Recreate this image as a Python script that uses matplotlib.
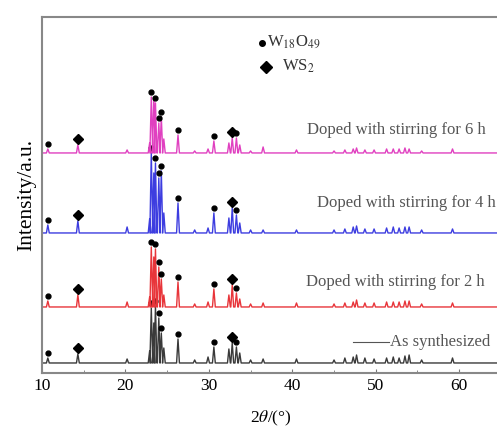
import numpy as np
import matplotlib
matplotlib.use("Agg")
from matplotlib import pyplot as plt
from matplotlib.ticker import MultipleLocator

plt.rcParams['font.family'] = ['Liberation Serif', 'DejaVu Serif']
plt.rcParams['mathtext.fontset'] = 'stix'

# peak positions (2theta, degrees) shared by all four patterns
peak_pos = [10.7, 14.3, 20.2, 22.9, 23.1, 23.4, 23.6, 24.0, 24.3, 24.6, 26.3,
            28.3, 29.9, 30.6, 32.4, 32.8, 33.3, 33.7, 35.0, 36.5, 40.5, 45.0,
            46.3, 47.3, 47.7, 48.7, 49.8, 51.3, 52.1, 52.8, 53.5, 54.0, 55.5, 59.2]

# peak heights (a.u.) per sample
h_as = [5, 9, 4, 12, 55, 40, 57, 45, 30, 15, 24, 3, 6, 16, 14, 20, 16, 10, 3, 4,
        4, 3, 5, 6, 8, 5, 4, 5, 6, 5, 7, 8, 3, 5]
h_2h = [6, 12, 5, 10, 60, 50, 58, 40, 28, 12, 25, 3, 5, 18, 12, 22, 14, 8, 3, 4,
        4, 3, 4, 5, 7, 4, 4, 5, 5, 5, 6, 6, 3, 4]
h_4h = [8, 12, 6, 14, 80, 60, 70, 55, 62, 20, 30, 3, 5, 20, 15, 25, 18, 10, 3, 3,
        3, 3, 4, 6, 7, 4, 4, 5, 6, 5, 6, 6, 3, 4]
h_6h = [4, 8, 3, 10, 56, 55, 50, 30, 36, 14, 18, 2, 4, 12, 10, 15, 15, 8, 2, 6,
        3, 2, 3, 4, 5, 3, 3, 4, 4, 4, 5, 4, 2, 4]

offsets = [10, 66, 140, 220]
colors = ['#3a3a3a', '#e8353a', '#3d3de0', '#e040c0']
labels = ['As synthesized', 'Doped with stirring for 2 h',
          'Doped with stirring for 4 h', 'Doped with stirring for 6 h']

w18o49_pos = [10.7, 23.1, 23.6, 24.0, 24.3, 26.3, 30.6, 33.3]
ws2_pos = [14.3, 32.8]


def profile(heights, base, w=0.17):
    xs, ys = [10.0], [base]
    for p, h in zip(peak_pos, heights):
        xs += [p - w, p, p + w]
        ys += [base, base + h, base]
    xs.append(65.0)
    ys.append(base)
    return xs, ys


fig = plt.figure(figsize=(4.97, 4.3), dpi=100)
ax = fig.add_axes([0.0845, 0.1326, 0.92, 0.828])

for heights, base, c in zip([h_as, h_2h, h_4h, h_6h], offsets, colors):
    xs, ys = profile(heights, base)
    ax.plot(xs, ys, color=c, lw=1.0)
    hmap = dict(zip(peak_pos, heights))
    ax.plot(w18o49_pos, [base + hmap[p] + 5 for p in w18o49_pos], 'o',
            color='black', ms=3.5, ls='none')
    ax.plot(ws2_pos, [base + hmap[p] + 6 for p in ws2_pos], 'D',
            color='black', ms=5, ls='none')

txt_kw = dict(color='#555555', fontsize=12)
ax.text(41.8, 243, labels[3], va='center', **txt_kw)
ax.text(42.9, 170, labels[2], va='center', **txt_kw)
ax.text(41.7, 91, labels[1], va='center', **txt_kw)
ax.plot([47.3, 51.6], [31, 31], color='#555555', lw=0.8)
ax.text(51.7, 31, labels[0], va='center', **txt_kw)

# marker legend
ax.plot([0.482], [0.927], 'o', color='black', ms=4, transform=ax.transAxes)
ax.text(0.492, 0.927, 'W$_{18}$O$_{49}$', transform=ax.transAxes,
        va='center', fontsize=12, color='#333333')
ax.plot([0.49], [0.86], 'D', color='black', ms=6, transform=ax.transAxes)
ax.text(0.525, 0.86, 'WS$_2$', transform=ax.transAxes,
        va='center', fontsize=12, color='#333333')

ax.set_xlim(10, 64.8)
ax.set_ylim(0, 356)
ax.set_yticks([])
ax.xaxis.set_major_locator(MultipleLocator(10))
ax.xaxis.set_minor_locator(MultipleLocator(5))
ax.tick_params(axis='x', which='both', direction='in', colors='#777777',
               labelcolor='black', labelsize=12.5)
ax.tick_params(axis='x', which='major', length=3)
ax.tick_params(axis='x', which='minor', length=2)
for s in ['left', 'bottom', 'top']:
    ax.spines[s].set_color('#888888')
    ax.spines[s].set_linewidth(1.5)
ax.spines['right'].set_visible(False)

ax.set_xlabel('2$\\theta$/(°)', fontsize=12.5, labelpad=11)
ax.set_ylabel('Intensity/a.u.', fontsize=15.5, labelpad=4)

fig.savefig('out.png', dpi=100)
